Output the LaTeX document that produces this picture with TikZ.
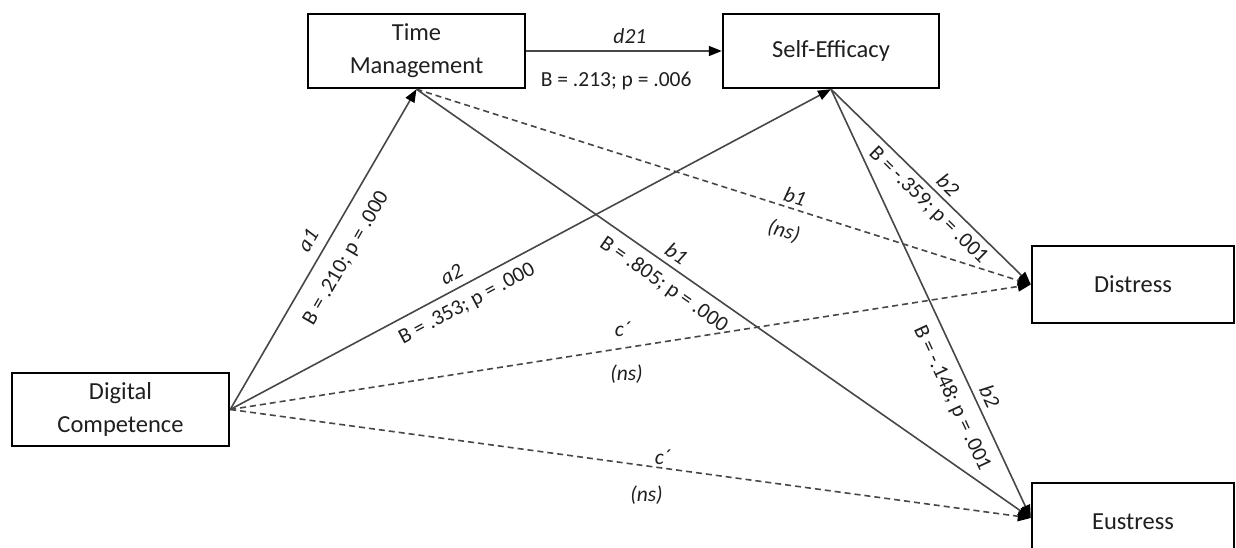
\documentclass[tikz,border=0pt]{standalone}
\usepackage{fontspec}
\setmainfont{Carlito}
\usetikzlibrary{arrows.meta}
\begin{document}
\begin{tikzpicture}[x=1pt,y=-1pt,
  box/.style={draw=black,line width=2.4pt,inner sep=0pt,align=center,
    text=black!88,font=\fontsize{24.5}{33}\selectfont},
  conn/.style={draw=black!72,line width=1.6pt,-{Triangle[length=13pt,width=10pt,fill=black,color=black]}},
  dconn/.style={conn,dash pattern=on 6pt off 4pt},
  lab/.style={inner sep=0pt,text=black!88,font=\fontsize{21.5}{24}\selectfont},
  ilab/.style={inner sep=0pt,text=black!88,font=\fontsize{21.5}{24}\selectfont\itshape}]
\useasboundingbox (0,0) rectangle (1236,548);
\node[box,minimum width=217pt,minimum height=73pt] (DC) at (120.5,409.5) {Digital\\Competence};
\node[box,minimum width=217pt,minimum height=74pt] (TM) at (416.5,51) {Time\\Management};
\node[box,minimum width=216pt,minimum height=74pt] (SE) at (831,51) {Self-Efficacy};
\node[box,minimum width=202pt,minimum height=77pt] (DI) at (1133,284.5) {Distress};
\node[box,minimum width=202pt,minimum height=78pt] (EU) at (1133,522) {Eustress};
\coordinate (EUin) at ([yshift=4pt]EU.west);
% a1
\draw[conn] (DC.east) -- node[pos=0.5,sloped,above=10pt,ilab]{a1}
  node[pos=0.51,sloped,below=15pt,lab]{B = .210; p = .000} (TM.south);
% a2
\draw[conn] (DC.east) -- node[pos=0.38,sloped,above=7pt,ilab]{a2}
  node[pos=0.38,sloped,below=9pt,lab]{B = .353; p = .000} (SE.south);
% c' to distress
\draw[dconn] (DC.east) -- node[pos=0.49,above=11pt,ilab]{c´}
  node[pos=0.495,below=16pt,ilab]{(ns)} (DI.west);
% c' to eustress
\draw[dconn] (DC.east) -- node[pos=0.54,above=3pt,ilab]{c´}
  node[pos=0.52,below=19pt,ilab]{(ns)} (EUin);
% d21
\draw[conn] (TM.east) -- node[pos=0.53,above=7pt,ilab]{d21}
  node[pos=0.46,below=20pt,lab]{B = .213; p = .006} (SE.west);
% b1 to distress
\draw[dconn] (TM.south) -- node[pos=0.61,sloped,above=4pt,ilab]{b1}
  node[pos=0.61,sloped,below=14pt,ilab]{(ns)} (DI.west);
% b1 to eustress
\draw[conn] (TM.south) -- node[pos=0.41,sloped,above=6pt,ilab]{b1}
  node[pos=0.42,sloped,below=9pt,lab]{B = .805; p = .000} (EUin);
% b2 to distress
\draw[conn] (SE.south) -- node[pos=0.54,sloped,above=5pt,ilab]{b2}
  node[pos=0.54,sloped,below=6pt,lab]{B = -.359; p = .001} (DI.west);
% b2 to eustress
\draw[conn] (SE.south) -- node[pos=0.73,sloped,above=6pt,ilab]{b2}
  node[pos=0.70,sloped,below=11pt,lab]{B = -.148; p = .001} (EUin);
\end{tikzpicture}
\end{document}
